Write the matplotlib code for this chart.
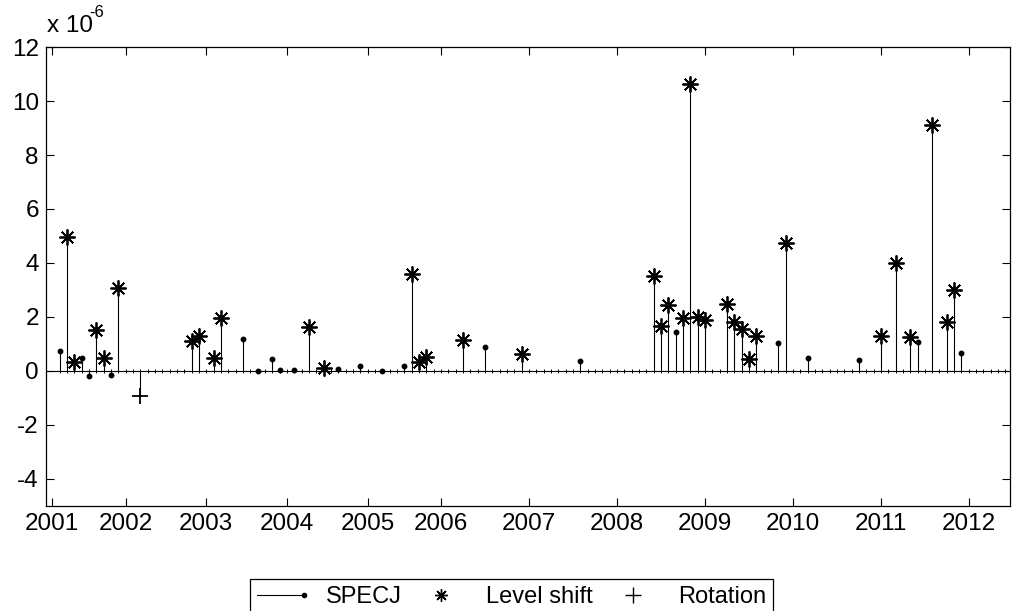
import matplotlib

matplotlib.use("Agg")
import matplotlib.pyplot as plt
import numpy as np
from matplotlib.legend_handler import HandlerBase
from matplotlib.lines import Line2D

plt.rcParams["font.family"] = ["Liberation Sans", "DejaVu Sans"]
plt.rcParams["axes.unicode_minus"] = False

# x = month index (0 = start of 2001); y in units of 1e-6
year_labels = ["2001", "2002", "2003", "2004", "2005", "2006",
               "2007", "2008", "2009", "2010", "2011", "2012"]
year_pos = [0, 10, 21, 32, 43, 53, 65, 77, 89, 101, 113, 125]

months = np.arange(1, 131)

# jumps flagged as level shifts
ls_month = [2, 3, 6, 7, 9, 19, 20, 22, 23, 35, 37, 49, 50, 51, 56, 64,
            82, 83, 84, 86, 87, 88, 89, 92, 93, 94, 95, 96, 100,
            113, 115, 117, 120, 122, 123]
ls_value = [4.95, 0.32, 1.5, 0.47, 3.07, 1.12, 1.31, 0.47, 1.97, 1.64, 0.1,
            3.6, 0.35, 0.51, 1.15, 0.63,
            3.52, 1.66, 2.44, 1.96, 10.63, 2.0, 1.89, 2.47, 1.81, 1.55, 0.44,
            1.28, 4.73, 1.31, 4.0, 1.25, 9.12, 1.8, 3.0]

# jumps flagged as rotations
rot_month = [12]
rot_value = [-0.93]

# remaining jumps (SPECJ only)
sp_month = [1, 4, 5, 8, 26, 28, 30, 31, 33, 39, 42, 45, 48, 59, 72,
            85, 99, 103, 110, 118, 124]
sp_value = [0.73, 0.48, -0.17, -0.15, 1.19, 0.01, 0.44, 0.04, 0.04, 0.06,
            0.17, 0.0, 0.18, 0.9, 0.36, 1.46, 1.02, 0.49, 0.42, 1.09, 0.66]

ASTER = (8, 2, 0)


class StemHandler(HandlerBase):
    def create_artists(self, legend, orig_handle, xdescent, ydescent,
                       width, height, fontsize, trans):
        y = height / 2 - ydescent
        x1 = width - xdescent
        line = Line2D([-xdescent, x1], [y, y], color="black", lw=0.8)
        dot = Line2D([x1], [y], marker="o", ms=3, color="black", lw=0)
        line.set_transform(trans)
        dot.set_transform(trans)
        return [line, dot]


fig = plt.figure(figsize=(10.17, 6.11), dpi=100)
ax = fig.add_axes([0.045, 0.172, 0.948, 0.751])

# baseline with a tick at every month
ax.axhline(0, color="black", lw=0.8, zorder=1)
ax.plot(months, np.zeros(len(months)), ls="none", marker="|", ms=3,
        mew=0.7, color="black", zorder=1)

all_m = sp_month + ls_month + rot_month
all_v = sp_value + ls_value + rot_value
ax.vlines(all_m, 0, all_v, color="black", lw=0.8, zorder=2)
ax.plot(sp_month, sp_value, ls="none", marker="o", ms=3.2,
        color="black", zorder=3)
ax.plot(ls_month, ls_value, ls="none", marker=ASTER, ms=11.5, mew=1.3,
        color="black", zorder=3)
ax.plot(rot_month, rot_value, ls="none", marker="+", ms=12, mew=1.3,
        color="black", zorder=3)

ax.set_xlim(-0.9, 130.6)
ax.set_ylim(-5, 12)
ax.set_yticks(range(-4, 13, 2))
ax.set_xticks(year_pos)
ax.set_xticklabels(year_labels)
ax.tick_params(direction="in", top=True, right=True, length=6, width=0.8,
               labelsize=17.5, pad=5)
for s in ax.spines.values():
    s.set_linewidth(0.9)

fig.text(0.046, 0.948, "x 10", fontsize=17.5, ha="left", va="baseline")
fig.text(0.088, 0.972, "-6", fontsize=12, ha="left", va="baseline")

h_sp = Line2D([], [], color="black")
h_ls = Line2D([], [], ls="none", marker=ASTER, ms=9, mew=1.0, color="black")
h_rot = Line2D([], [], ls="none", marker="+", ms=11, mew=1.0, color="black")
leg = fig.legend([h_sp, h_ls, h_rot], ["SPECJ", "Level shift", "Rotation"],
                 handler_map={h_sp: StemHandler()},
                 loc="upper center", bbox_to_anchor=(0.503, 0.052),
                 ncol=3, fontsize=17, frameon=True, fancybox=False,
                 edgecolor="black", framealpha=1, handlelength=2.0,
                 handletextpad=0.9, columnspacing=0.7, borderpad=0.3,
                 borderaxespad=0)
leg.get_frame().set_linewidth(0.9)

fig.savefig("out.png", dpi=100)
